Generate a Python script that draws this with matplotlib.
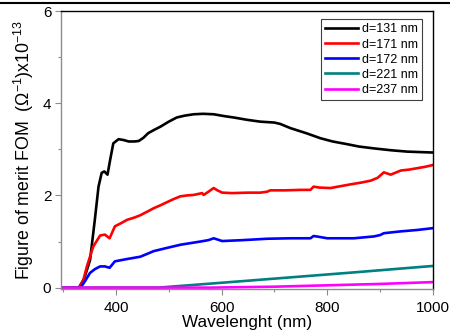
import matplotlib
matplotlib.use("Agg")
import matplotlib.pyplot as plt
from matplotlib.lines import Line2D
from matplotlib.ticker import MultipleLocator

plt.rcParams['font.family'] = ['Liberation Sans', 'DejaVu Sans']
plt.rcParams['mathtext.fontset'] = 'custom'
plt.rcParams['mathtext.rm'] = 'Liberation Sans'
plt.rcParams['mathtext.it'] = 'Liberation Sans:italic'
plt.rcParams['mathtext.bf'] = 'Liberation Sans:bold'

# Figure of merit spectra for films of different thickness
wl_131 = [300, 330, 340, 351, 360, 367, 373, 378, 384, 389, 395, 405, 415, 424, 435,
          443, 452, 461, 472, 484, 500, 515, 530, 547, 565, 585, 605, 623, 648, 673,
          700, 711, 730, 760, 787, 810, 838, 860, 888, 920, 951, 975, 1000]
fom_131 = [0, 0, 0.2, 0.6, 1.47, 2.19, 2.49, 2.52, 2.45, 2.77, 3.13, 3.22, 3.2, 3.17, 3.17,
           3.18, 3.25, 3.35, 3.42, 3.49, 3.6, 3.69, 3.73, 3.76, 3.77, 3.76, 3.72, 3.69, 3.64, 3.60,
           3.58, 3.55, 3.46, 3.35, 3.24, 3.17, 3.11, 3.06, 3.02, 2.98, 2.95, 2.94, 2.93]

wl_171 = [300, 330, 338, 345, 357, 370, 379, 388, 398, 410, 421, 435, 446, 463, 471,
          485, 496, 509, 522, 535, 547, 563, 566, 575, 585, 592, 601, 620, 650, 673,
          686, 692, 720, 750, 768, 774, 785, 806, 825, 844, 865, 882, 895, 907, 920,
          939, 955, 970, 985, 1000]
fom_171 = [0, 0, 0.15, 0.46, 0.89, 1.13, 1.15, 1.07, 1.33, 1.4, 1.47, 1.52, 1.57, 1.67, 1.72,
           1.79, 1.85, 1.92, 1.98, 2.0, 2.01, 2.05, 2.01, 2.08, 2.16, 2.11, 2.06, 2.05, 2.06, 2.06,
           2.08, 2.11, 2.11, 2.12, 2.12, 2.19, 2.17, 2.16, 2.2, 2.24, 2.28, 2.32, 2.38, 2.50, 2.45,
           2.54, 2.56, 2.59, 2.62, 2.66]

wl_172 = [300, 333, 342, 351, 360, 370, 379, 388, 398, 421, 446, 463, 471, 496, 522,
          560, 575, 585, 601, 640, 686, 730, 768, 774, 785, 800, 850, 888, 900, 907,
          939, 970, 1000]
fom_172 = [0, 0, 0.15, 0.32, 0.4, 0.46, 0.46, 0.43, 0.57, 0.62, 0.67, 0.75, 0.79, 0.86, 0.93,
           1.0, 1.03, 1.07, 1.01, 1.03, 1.06, 1.07, 1.07, 1.12, 1.1, 1.07, 1.07, 1.11, 1.14, 1.18,
           1.22, 1.25, 1.29]

wl_221 = [300, 480, 560, 650, 750, 850, 1000]
fom_221 = [0, 0, 0.07, 0.15, 0.24, 0.33, 0.47]

wl_237 = [300, 580, 700, 800, 900, 1000]
fom_237 = [0, 0, 0.02, 0.05, 0.08, 0.12]

labels = ['d=131 nm', 'd=171 nm', 'd=172 nm', 'd=221 nm', 'd=237 nm']
colors = ['#000000', '#ff0000', '#0000ff', '#008080', '#ff00ff']

fig = plt.figure(figsize=(4.5, 3.35), dpi=100)
ax = fig.add_axes([61 / 450, 1 - 289 / 335, (433 - 61) / 450, (289 - 11) / 335])

series = [(wl_131, fom_131), (wl_171, fom_171), (wl_172, fom_172),
          (wl_221, fom_221), (wl_237, fom_237)]
for (wl, fom), lab, col in zip(series, labels, colors):
    ax.plot(wl, fom, color=col, lw=1.9, label=lab, solid_joinstyle='round')

ax.set_xlim(296, 1000)
ax.set_ylim(-0.03, 6)
ax.xaxis.set_major_locator(MultipleLocator(200))
ax.xaxis.set_minor_locator(MultipleLocator(100))
ax.yaxis.set_major_locator(MultipleLocator(2))
ax.yaxis.set_minor_locator(MultipleLocator(1))

grey = '#8c8c8c'
for side in ('left', 'bottom'):
    ax.spines[side].set_color(grey)
    ax.spines[side].set_linewidth(1.0)
for side in ('top', 'right'):
    ax.spines[side].set_color('black')
    ax.spines[side].set_linewidth(1.0)

ax.tick_params(which='both', direction='out', color=grey, labelsize=11, top=False, right=False)
ax.tick_params(which='major', length=4, width=0.8)
ax.tick_params(axis='x', which='major', pad=5)
ax.tick_params(axis='y', which='major', pad=3)
ax.tick_params(which='minor', length=2.5, width=0.8)

ax.set_xlabel('Wavelenght (nm)', fontsize=12.3, labelpad=0)
ax.set_ylabel(r'Figure of merit FOM  ($\Omega^{-1}$)x10$^{-13}$', fontsize=12.8, labelpad=5)

leg = ax.legend(loc='upper right', bbox_to_anchor=(422 / 450, 1 - 19 / 335),
                bbox_transform=fig.transFigure, fontsize=9, frameon=True,
                fancybox=False, edgecolor='#404040', framealpha=1,
                handlelength=2.6, handletextpad=0.3, labelspacing=0.25,
                borderpad=0.35, borderaxespad=0)
leg.get_frame().set_linewidth(0.8)

# thin rule across the top of the figure
fig.add_artist(Line2D([0, 1], [1 - 3 / 335, 1 - 3 / 335], transform=fig.transFigure,
                      color='black', lw=1.5))

fig.savefig('out.png', dpi=100)
